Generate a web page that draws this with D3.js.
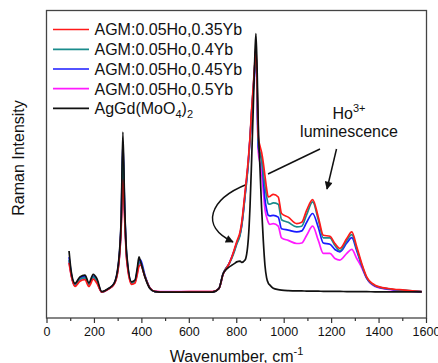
<!DOCTYPE html>
<html>
<head>
<meta charset="utf-8">
<script src="https://cdn.jsdelivr.net/npm/d3@7"></script>
<style>
  body { margin: 0; background: #fff; }
  svg { font-family: "Liberation Sans", Arial, sans-serif; }
</style>
</head>
<body>
<svg id="chart" width="438" height="363"></svg>
<script>
// wavenumber grid (cm-1) shared by all spectra
var wavenumbers = [95,105,120,141,162,179,197,212,233,261,285,303,315,322,330,338,359,373,383,390,
  396,415,436,457,500,600,700,727,745,755,767,781,795,802,816,823,837,851,858,865,
  872,879,883,888,893,900,907,914,921,928,935,942,956,977,991,1019,1055,1076,1097,1122,
  1146,1167,1195,1216,1237,1266,1287,1308,1329,1350,1385,1441,1511,1582];

var ho035 = [0.113,0.06,0.022,0.042,0.048,0.022,0.05,0.035,0.0,0.012,
  0.03,0.095,0.25,0.435,0.27,0.125,0.03,0.035,0.07,0.1,
  0.105,0.06,0.016,0.003,0.0,0.002,0.002,0.014,0.07,0.088,
  0.105,0.135,0.175,0.195,0.233,0.27,0.387,0.516,0.6,0.709,
  0.8,0.9,0.95,0.8,0.6,0.565,0.54,0.5,0.45,0.4,
  0.368,0.37,0.378,0.368,0.304,0.29,0.265,0.27,0.317,0.358,
  0.29,0.22,0.216,0.188,0.169,0.207,0.233,0.175,0.111,0.059,
  0.027,0.014,0.008,0.002];

var ho04 = [0.125,0.065,0.025,0.05,0.055,0.028,0.058,0.042,0.0,0.013,
  0.032,0.1,0.27,0.55,0.3,0.135,0.035,0.04,0.08,0.115,
  0.115,0.06,0.015,0.002,0.0,0.001,0.001,0.014,0.072,0.09,
  0.105,0.13,0.165,0.185,0.22,0.255,0.37,0.5,0.59,0.7,
  0.79,0.89,0.94,0.78,0.58,0.54,0.51,0.46,0.41,0.37,
  0.342,0.34,0.345,0.34,0.28,0.27,0.252,0.255,0.3,0.349,
  0.28,0.21,0.21,0.18,0.16,0.2,0.222,0.167,0.106,0.056,
  0.025,0.013,0.007,0.002];

var ho045 = [0.135,0.068,0.028,0.055,0.06,0.03,0.062,0.045,0.0,0.013,
  0.033,0.105,0.28,0.58,0.31,0.14,0.037,0.043,0.085,0.12,
  0.125,0.065,0.016,0.002,0.0,0.001,0.001,0.014,0.072,0.09,
  0.105,0.135,0.17,0.19,0.225,0.26,0.375,0.505,0.595,0.7,
  0.79,0.89,0.94,0.75,0.56,0.535,0.516,0.44,0.36,0.32,
  0.297,0.295,0.297,0.29,0.245,0.24,0.233,0.237,0.27,0.304,
  0.25,0.19,0.185,0.165,0.156,0.19,0.211,0.16,0.102,0.054,
  0.024,0.012,0.006,0.002];

var ho05 = [0.12,0.062,0.025,0.048,0.053,0.03,0.055,0.04,0.0,0.012,
  0.031,0.1,0.26,0.5,0.29,0.13,0.033,0.038,0.075,0.11,
  0.11,0.06,0.016,0.003,0.002,0.002,0.002,0.014,0.07,0.088,
  0.105,0.135,0.17,0.19,0.225,0.26,0.375,0.505,0.59,0.69,
  0.78,0.88,0.93,0.74,0.54,0.5,0.46,0.39,0.32,0.29,
  0.27,0.262,0.265,0.255,0.21,0.2,0.188,0.19,0.22,0.255,
  0.2,0.15,0.15,0.13,0.124,0.15,0.165,0.13,0.095,0.053,
  0.022,0.011,0.005,0.001];

var agm = [0.159,0.075,0.034,0.059,0.066,0.036,0.069,0.053,0.002,0.014,
  0.034,0.11,0.29,0.619,0.32,0.15,0.04,0.046,0.095,0.136,
  0.12,0.059,0.014,0.002,0.0,0.0,0.0,0.014,0.072,0.085,
  0.095,0.104,0.112,0.117,0.12,0.115,0.124,0.207,0.33,0.516,
  0.72,0.93,1.0,0.86,0.645,0.48,0.323,0.2,0.104,0.055,
  0.035,0.027,0.015,0.01,0.008,0.006,0.005,0.005,0.004,0.004,
  0.004,0.003,0.003,0.003,0.003,0.002,0.002,0.002,0.002,0.002,
  0.001,0.001,0.001,0.001];

var seriesNames = ["AGM:0.05Ho,0.35Yb", "AGM:0.05Ho,0.4Yb", "AGM:0.05Ho,0.45Yb", "AGM:0.05Ho,0.5Yb", "AgGd(MoO4)2"];
var seriesValues = [ho035, ho04, ho045, ho05, agm];
var seriesColors = ["#ff1a1a", "#1a8c8c", "#1a1aff", "#ff1aff", "#111111"];
var majorTicks = [0, 200, 400, 600, 800, 1000, 1200, 1400, 1600];
var minorTicks = [100, 300, 500, 700, 900, 1100, 1300, 1500];

(function () {
  var svg = d3.select("#chart");
  var pLeft = 46.5, pRight = 426.5, pTop = 10.5, pBottom = 318;

  var x = d3.scaleLinear().domain([0, 1600]).range([pLeft, 426]);
  var y = d3.scaleLinear().domain([-0.1, 1.089]).range([pBottom, pTop]);

  // arrowhead
  var defs = svg.append("defs");
  defs.append("marker")
    .attr("id", "arrow")
    .attr("viewBox", "0 0 10 10")
    .attr("refX", 9).attr("refY", 5)
    .attr("markerWidth", 9).attr("markerHeight", 8)
    .attr("markerUnits", "userSpaceOnUse")
    .attr("orient", "auto")
    .append("path").attr("d", "M0,0 L10,5 L0,10 z").attr("fill", "#111");

  defs.append("clipPath").attr("id", "plotclip")
    .append("rect").attr("x", pLeft).attr("y", pTop)
    .attr("width", pRight - pLeft).attr("height", pBottom - pTop);

  // annotation lines (under the spectra)
  svg.append("line")
    .attr("x1", 320).attr("y1", 149).attr("x2", 268).attr("y2", 174)
    .attr("stroke", "#111").attr("stroke-width", 1.5);
  svg.append("path")
    .attr("d", "M247,184.2 C210,199 199,226 233,242")
    .attr("fill", "none").attr("stroke", "#111").attr("stroke-width", 1.5)
    .attr("marker-end", "url(#arrow)");
  svg.append("line")
    .attr("x1", 336.5).attr("y1", 149).attr("x2", 327).attr("y2", 189)
    .attr("stroke", "#111").attr("stroke-width", 1.5)
    .attr("marker-end", "url(#arrow)");

  // spectra, black drawn last
  var line = d3.line()
    .x(function (d) { return x(d[0]); })
    .y(function (d) { return y(d[1]); })
    .curve(d3.curveMonotoneX);

  var order = [3, 2, 1, 0, 4];
  var plot = svg.append("g").attr("clip-path", "url(#plotclip)");
  order.forEach(function (k) {
    var pts = wavenumbers.map(function (w, i) { return [w, seriesValues[k][i]]; });
    plot.append("path")
      .attr("d", line(pts))
      .attr("fill", "none")
      .attr("stroke", seriesColors[k])
      .attr("stroke-width", 1.7)
      .attr("stroke-linejoin", "round");
  });

  // frame
  svg.append("rect")
    .attr("x", pLeft).attr("y", pTop)
    .attr("width", pRight - pLeft).attr("height", pBottom - pTop)
    .attr("fill", "none").attr("stroke", "#444").attr("stroke-width", 1.3);

  // x axis
  var xAxis = svg.append("g").attr("transform", "translate(0," + pBottom + ")")
    .call(d3.axisBottom(x).tickValues(majorTicks).tickSize(5).tickPadding(4).tickFormat(d3.format("d")));
  xAxis.select(".domain").remove();
  xAxis.selectAll("line").attr("stroke", "#333").attr("stroke-width", 1.2);
  xAxis.selectAll("text").attr("font-size", "12.5px").attr("fill", "#111")
    .attr("font-family", "'Liberation Sans', Arial, sans-serif");

  var xMinor = svg.append("g").attr("transform", "translate(0," + pBottom + ")")
    .call(d3.axisBottom(x).tickValues(minorTicks).tickSize(3).tickFormat(""));
  xMinor.select(".domain").remove();
  xMinor.selectAll("line").attr("stroke", "#333").attr("stroke-width", 1.2);

  // axis titles
  var xt = svg.append("text")
    .attr("x", (pLeft + pRight) / 2).attr("y", 362)
    .attr("text-anchor", "middle").attr("font-size", "16px").attr("fill", "#111");
  xt.append("tspan").text("Wavenumber, cm");
  xt.append("tspan").attr("dy", -7).attr("font-size", "11px").text("-1");

  svg.append("text")
    .attr("transform", "translate(24,158) rotate(-90)")
    .attr("text-anchor", "middle").attr("font-size", "16px").attr("fill", "#111")
    .text("Raman Intensity");

  // legend
  var legendRowY = [29.5, 49.3, 69, 88.7, 108.3];
  var legend = svg.selectAll(".legend")
    .data(seriesNames)
    .enter()
    .append("g")
    .attr("class", "legend")
    .attr("transform", function (d, i) { return "translate(0," + legendRowY[i] + ")"; });
  legend.append("line")
    .attr("x1", 53).attr("x2", 89).attr("y1", 0).attr("y2", 0)
    .attr("stroke", function (d, i) { return seriesColors[i]; })
    .attr("stroke-width", 1.7);
  legend.each(function (d, i) {
    var t = d3.select(this).append("text")
      .attr("x", 94.5).attr("y", 5.8)
      .attr("font-size", "16px").attr("fill", "#111");
    if (i === 4) {
      t.append("tspan").text("AgGd(MoO");
      t.append("tspan").attr("dy", 4).attr("font-size", "11px").text("4");
      t.append("tspan").attr("dy", -4).text(")");
      t.append("tspan").attr("dy", 4).attr("font-size", "11px").text("2");
    } else {
      t.text(d);
    }
  });

  // annotation labels
  var ho = svg.append("text")
    .attr("x", 349).attr("y", 119)
    .attr("text-anchor", "middle").attr("font-size", "16px").attr("fill", "#111");
  ho.append("tspan").text("Ho");
  ho.append("tspan").attr("dy", -7).attr("font-size", "11px").text("3+");
  svg.append("text")
    .attr("x", 349).attr("y", 137)
    .attr("text-anchor", "middle").attr("font-size", "16px").attr("fill", "#111")
    .text("luminescence");
})();
</script>
</body>
</html>
